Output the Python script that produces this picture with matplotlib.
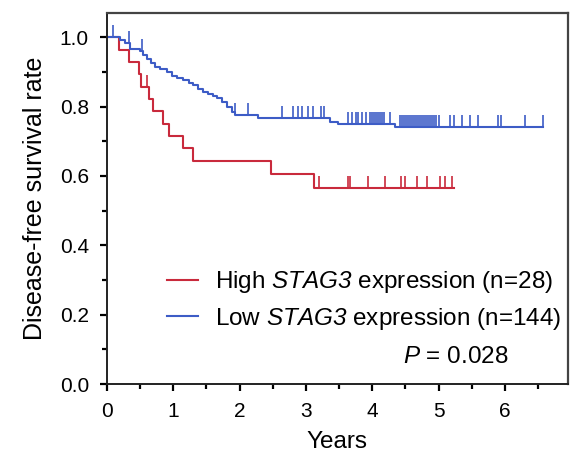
import numpy as np
import matplotlib
matplotlib.use('Agg')
import matplotlib.pyplot as plt
from matplotlib.ticker import MultipleLocator

plt.rcParams['font.family'] = ['Liberation Sans', 'DejaVu Sans']
plt.rcParams['mathtext.fontset'] = 'custom'
plt.rcParams['mathtext.rm'] = 'Liberation Sans'
plt.rcParams['mathtext.it'] = 'Liberation Sans:italic'
# 'sf' slot used for italic gene name so that the digit is slanted too
plt.rcParams['mathtext.sf'] = 'Liberation Sans:italic'

# High STAG3 expression (n=28): event times and survival after each event
red_t = [0, 0.18, 0.33, 0.49, 0.52, 0.64, 0.70, 0.85, 0.94, 1.15, 1.30, 2.47, 3.12]
red_s = [1.0, 0.964, 0.929, 0.893, 0.857, 0.821, 0.786, 0.750, 0.714, 0.679, 0.643, 0.604, 0.565]
red_end = 5.23
red_cens = [0.61, 3.19, 3.64, 3.66, 3.93, 4.20, 4.43, 4.50, 4.68, 4.83, 5.02, 5.09, 5.21]

# Low STAG3 expression (n=144)
blue_t = [0, 0.20, 0.27, 0.35, 0.50, 0.55, 0.60, 0.67, 0.73, 0.80, 0.90, 0.98, 1.05, 1.15,
          1.23, 1.30, 1.38, 1.45, 1.53, 1.60, 1.66, 1.74, 1.81, 1.89, 1.93, 2.27, 3.37, 3.49, 4.35]
blue_s = [1.0, 0.991, 0.984, 0.965, 0.961, 0.948, 0.937, 0.925, 0.914, 0.907, 0.900, 0.888, 0.881, 0.876,
          0.868, 0.862, 0.850, 0.843, 0.836, 0.830, 0.824, 0.813, 0.798, 0.784, 0.775, 0.767, 0.755, 0.749, 0.740]
blue_end = 6.57
blue_cens = [0.09, 0.33, 0.53, 1.93, 2.13, 2.64, 2.81, 2.88, 2.94, 3.03, 3.11, 3.22, 3.27,
             3.64, 3.69, 3.75, 3.79, 3.84, 3.90, 3.97, 4.00, 4.03, 4.06, 4.09, 4.12, 4.15, 4.18, 4.27,
             4.42, 4.45, 4.48, 4.51, 4.54, 4.57, 4.60, 4.63, 4.66, 4.69, 4.72, 4.75, 4.78, 4.81,
             4.84, 4.87, 4.90, 4.93, 4.96, 5.00, 5.18, 5.23, 5.36, 5.48, 5.60, 5.89, 5.94, 6.31, 6.57]

labels = [r"High $\mathsf{STAG3}$ expression (n=28)", r"Low $\mathsf{STAG3}$ expression (n=144)"]
p_text = r"$\mathsf{P}$ = 0.028"

red = '#c92a3c'
blue = '#3d5cc6'

fig = plt.figure(figsize=(5.73, 4.55), dpi=100)
ax = fig.add_axes([0.1867, 0.156, 0.8043, 0.815])


def km(ax, t, s, end, cens, color, label):
    tt = list(t) + [end]
    ss = list(s) + [s[-1]]
    ax.step(tt, ss, where='post', color=color, lw=1.5, label=label)
    idx = np.searchsorted(t, cens, side='right') - 1
    lev = np.array(s)[idx]
    ax.vlines(cens, lev, lev + 0.035, color=color, lw=1.2)


km(ax, red_t, red_s, red_end, red_cens, red, labels[0])
km(ax, blue_t, blue_s, blue_end, blue_cens, blue, labels[1])

ax.set_xlim(0, 6.95)
ax.set_ylim(0, 1.069)
ax.set_xticks(range(0, 7))
ax.set_yticks([0, 0.2, 0.4, 0.6, 0.8, 1.0])
ax.set_yticklabels(['0.0', '0.2', '0.4', '0.6', '0.8', '1.0'])
ax.xaxis.set_minor_locator(MultipleLocator(0.5))
ax.yaxis.set_minor_locator(MultipleLocator(0.1))
ax.tick_params(which='major', direction='out', length=5, width=1.6, labelsize=15, pad=8)
ax.tick_params(which='minor', direction='out', length=3.5, width=1.6)

for side in ['left', 'bottom']:
    ax.spines[side].set_linewidth(1.4)
    ax.spines[side].set_color('#222222')
for side in ['top', 'right']:
    ax.spines[side].set_linewidth(1.6)
    ax.spines[side].set_color('#444444')

ax.set_xlabel('Years', fontsize=17.5, labelpad=7)
ax.set_ylabel('Disease-free survival rate', fontsize=18, labelpad=9)

ax.legend(loc='upper left', bbox_to_anchor=(0.13, 0.31), frameon=False, fontsize=17.5,
          handlelength=1.28, handletextpad=0.7, borderpad=0, borderaxespad=0, labelspacing=0.45)
ax.text(0.87, 0.073, p_text, transform=ax.transAxes, ha='right', va='center', fontsize=17.5)

fig.savefig('out.png', dpi=100)
